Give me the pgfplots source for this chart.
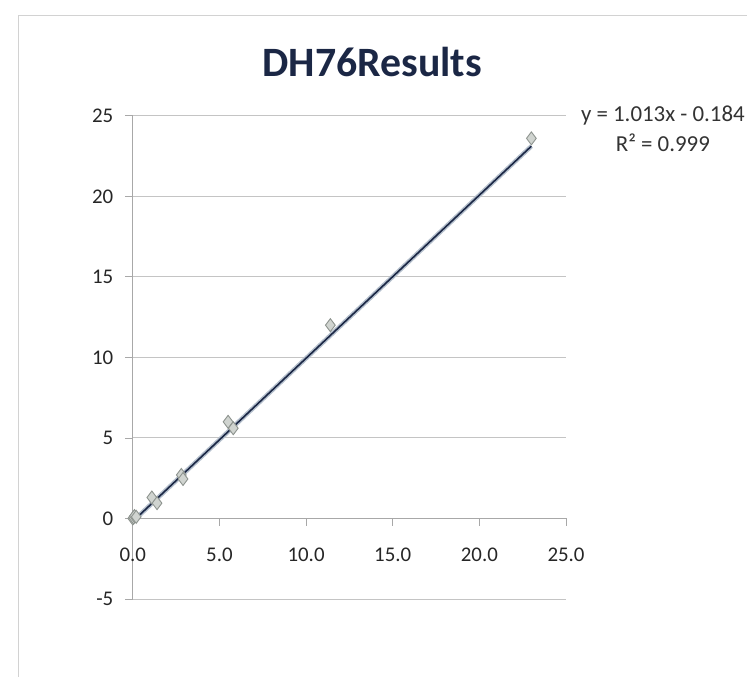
\documentclass[border=0pt]{standalone}
\usepackage{pgfplots}
\pgfplotsset{compat=1.18}
\usepackage{fontspec}
\setmainfont{Carlito}
\definecolor{navy}{HTML}{1B2745}
\definecolor{gridc}{HTML}{C4C4C4}
\definecolor{axc}{HTML}{A8A8A8}
\definecolor{mfill}{HTML}{D0D4D0}
\definecolor{mdraw}{HTML}{8E948F}
\definecolor{serc}{HTML}{B4BFCC}
\begin{document}
\begin{tikzpicture}
\path (0bp,0bp) rectangle (748bp,678bp);
\draw[gray!35, line width=0.8bp] (18bp,0bp) -- (18bp,663bp) -- (748bp,663bp);
\node[font=\fontsize{42}{48}\selectfont\bfseries, text=navy] at (373bp,616bp) {DH76Results};
\node[font=\fontsize{23}{27}\selectfont, text=black!80] at (664bp,562bp) {y = 1.013x - 0.184};
\node[font=\fontsize{23}{27}\selectfont, text=black!80] at (664bp,535bp) {R² = 0.999};
\begin{axis}[
  at={(133bp,78bp)}, anchor=south west,
  width=434bp, height=484bp, scale only axis,
  xmin=0, xmax=25, ymin=-5, ymax=25,
  ytick={-5,0,5,10,15,20,25},
  xtick={0,5,10,15,20,25},
  xticklabels={},
  axis x line=none,
  axis y line*=left,
  y axis line style={axc, line width=0.8bp},
  ytick style={axc, line width=0.8bp},
  tick align=outside,
  major tick length=8bp,
  ymajorgrids,
  grid style={gridc, line width=0.9bp},
  /pgf/number format/assume math mode=true,
  yticklabel style={font=\fontsize{21}{24}\selectfont, text=black!85, xshift=-8bp},
  clip=false,
]
\draw[axc, line width=0.9bp] (axis cs:0,0) -- (axis cs:25,0);
\pgfplotsinvokeforeach{0,5,10,15,20,25}{
  \draw[axc, line width=0.8bp] (axis cs:#1,0) -- ([yshift=-8bp]axis cs:#1,0);
  \node[anchor=north, inner sep=0pt, font=\fontsize{21}{24}\selectfont, text=black!85] at ([yshift=-29bp]axis cs:#1,0) {\pgfmathprintnumber[fixed,precision=1,zerofill,assume math mode=true]{#1}};
}
\addplot[serc, line width=4.5bp] coordinates {(0,-0.184) (23.0,23.115)};
\addplot[only marks, mark=diamond*, mark size=6.5bp,
  mark options={fill=mfill, draw=mdraw, line width=0.9bp}] coordinates {
  (0,0) (0.05,0.05) (0.1,0.15) (0.2,0.1) (1.1,1.3) (1.4,0.95) (2.8,2.7) (2.9,2.45) (5.5,6.0) (5.8,5.6) (11.4,12.0) (23.0,23.6)
};
\addplot[navy, line width=1.6bp] coordinates {(0,-0.184) (23.0,23.115)};
\end{axis}
\end{tikzpicture}
\end{document}
